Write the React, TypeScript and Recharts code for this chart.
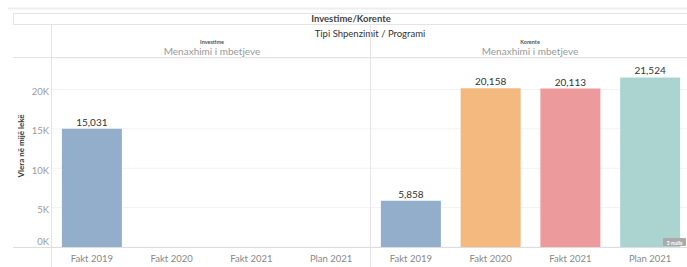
import React from "react";
import { BarChart, Bar, XAxis, YAxis, CartesianGrid, Cell, LabelList } from "recharts";

const groups = ["Investime", "Korente"];
const programi = "Menaxhimi i mbetjeve";
const categories = ["Fakt 2019", "Fakt 2020", "Fakt 2021", "Plan 2021"];
const investimeValues: (number | null)[] = [15031, null, null, null];
const korenteValues: (number | null)[] = [5858, 20158, 20113, 21524];
const yTicks = [0, 5000, 10000, 15000, 20000];
const colors = ["#93aecb", "#f4b97f", "#ec9a9b", "#abd4d0"];

const data = [investimeValues, korenteValues].flatMap((vals, g) =>
  categories.map((cat, i) => ({ key: groups[g] + "|" + cat, cat, idx: i, value: vals[i] }))
);

const FONT = "Lato, 'Open Sans', sans-serif";

// tableau nudges the 0K label up off the axis line
function YTick(props: any) {
  const { x, y, payload } = props;
  const dy = payload.value === 0 ? -5 : 2;
  return (
    <text x={x} y={y + dy} dy="0.355em" textAnchor="end" fontSize={9.5} fill="#9a9a9a" fontFamily={FONT}>
      {payload.value / 1000 + "K"}
    </text>
  );
}

export default function App() {
  return (
    <div style={{ position: "absolute", left: 0, top: 0, width: 687, height: 267, overflow: "hidden", background: "#fff", fontFamily: FONT }}>
      <BarChart
        width={690}
        height={267}
        data={data}
        margin={{ top: 58, right: 0, bottom: 0, left: 0 }}
        barCategoryGap="12.4%"
      >
        <CartesianGrid vertical={false} stroke="#f2f2f2" />
        <XAxis
          dataKey="key"
          height={20}
          axisLine={false}
          tickLine={false}
          interval={0}
          tickFormatter={(v: string) => v.split("|")[1]}
          tick={{ fill: "#888", fontSize: 9.5, fontFamily: FONT }}
        />
        <YAxis
          width={52}
          domain={[0, 24000]}
          ticks={yTicks}
          axisLine={false}
          tickLine={false}
          tickSize={0}
          tickMargin={3}
          tick={<YTick />}
        />
        <Bar dataKey="value" isAnimationActive={false}>
          {data.map((d) => (
            <Cell key={d.key} fill={colors[d.idx]} />
          ))}
          <LabelList
            dataKey="value"
            position="top"
            offset={3}
            fill="#333"
            fontSize={10}
            fontFamily={FONT}
            formatter={(v: any) => (v == null ? "" : Number(v).toLocaleString("en-US"))}
          />
        </Bar>
      </BarChart>

      <svg width={687} height={267} style={{ position: "absolute", left: 0, top: 0, pointerEvents: "none" }} fontFamily={FONT}>
        <line x1={8} x2={687} y1={8.5} y2={8.5} stroke="#eeeeee" strokeWidth={2} />
        <rect x={13.5} y={13.5} width={680} height={11} fill="none" stroke="#e4e4e4" />
        <text x={351} y={21.5} textAnchor="middle" fontSize={9.5} fontWeight={700} fill="#444">Investime/Korente</text>
        <text x={370} y={36.5} textAnchor="middle" fontSize={9.5} fill="#333">Tipi Shpenzimit / Programi</text>
        <line x1={51.5} x2={51.5} y1={25} y2={267} stroke="#e4e4e4" />
        <line x1={370.5} x2={370.5} y1={25} y2={267} stroke="#e4e4e4" />
        <line x1={13} x2={687} y1={57.5} y2={57.5} stroke="#e4e4e4" />
        <line x1={13} x2={687} y1={247.5} y2={247.5} stroke="#dddddd" />
        {groups.map((g, i) => (
          <g key={g}>
            <text x={i === 0 ? 212 : 530} y={43.5} textAnchor="middle" fontSize={5.5} fontWeight={700} fill="#555">{g}</text>
            <text x={i === 0 ? 212 : 530} y={55} textAnchor="middle" fontSize={10} fill="#999">{programi}</text>
          </g>
        ))}
        <text transform="translate(24,146) rotate(-90)" textAnchor="middle" fontSize={8} fontWeight={700} fill="#333">Vlera në mijë lekë</text>
        <rect x={663} y={238} width={23} height={8} rx={1} fill="#aaaaaa" />
        <text x={674.5} y={244.5} textAnchor="middle" fontSize={5.5} fontWeight={700} fill="#fff">3 nulls</text>
      </svg>
    </div>
  );
}
